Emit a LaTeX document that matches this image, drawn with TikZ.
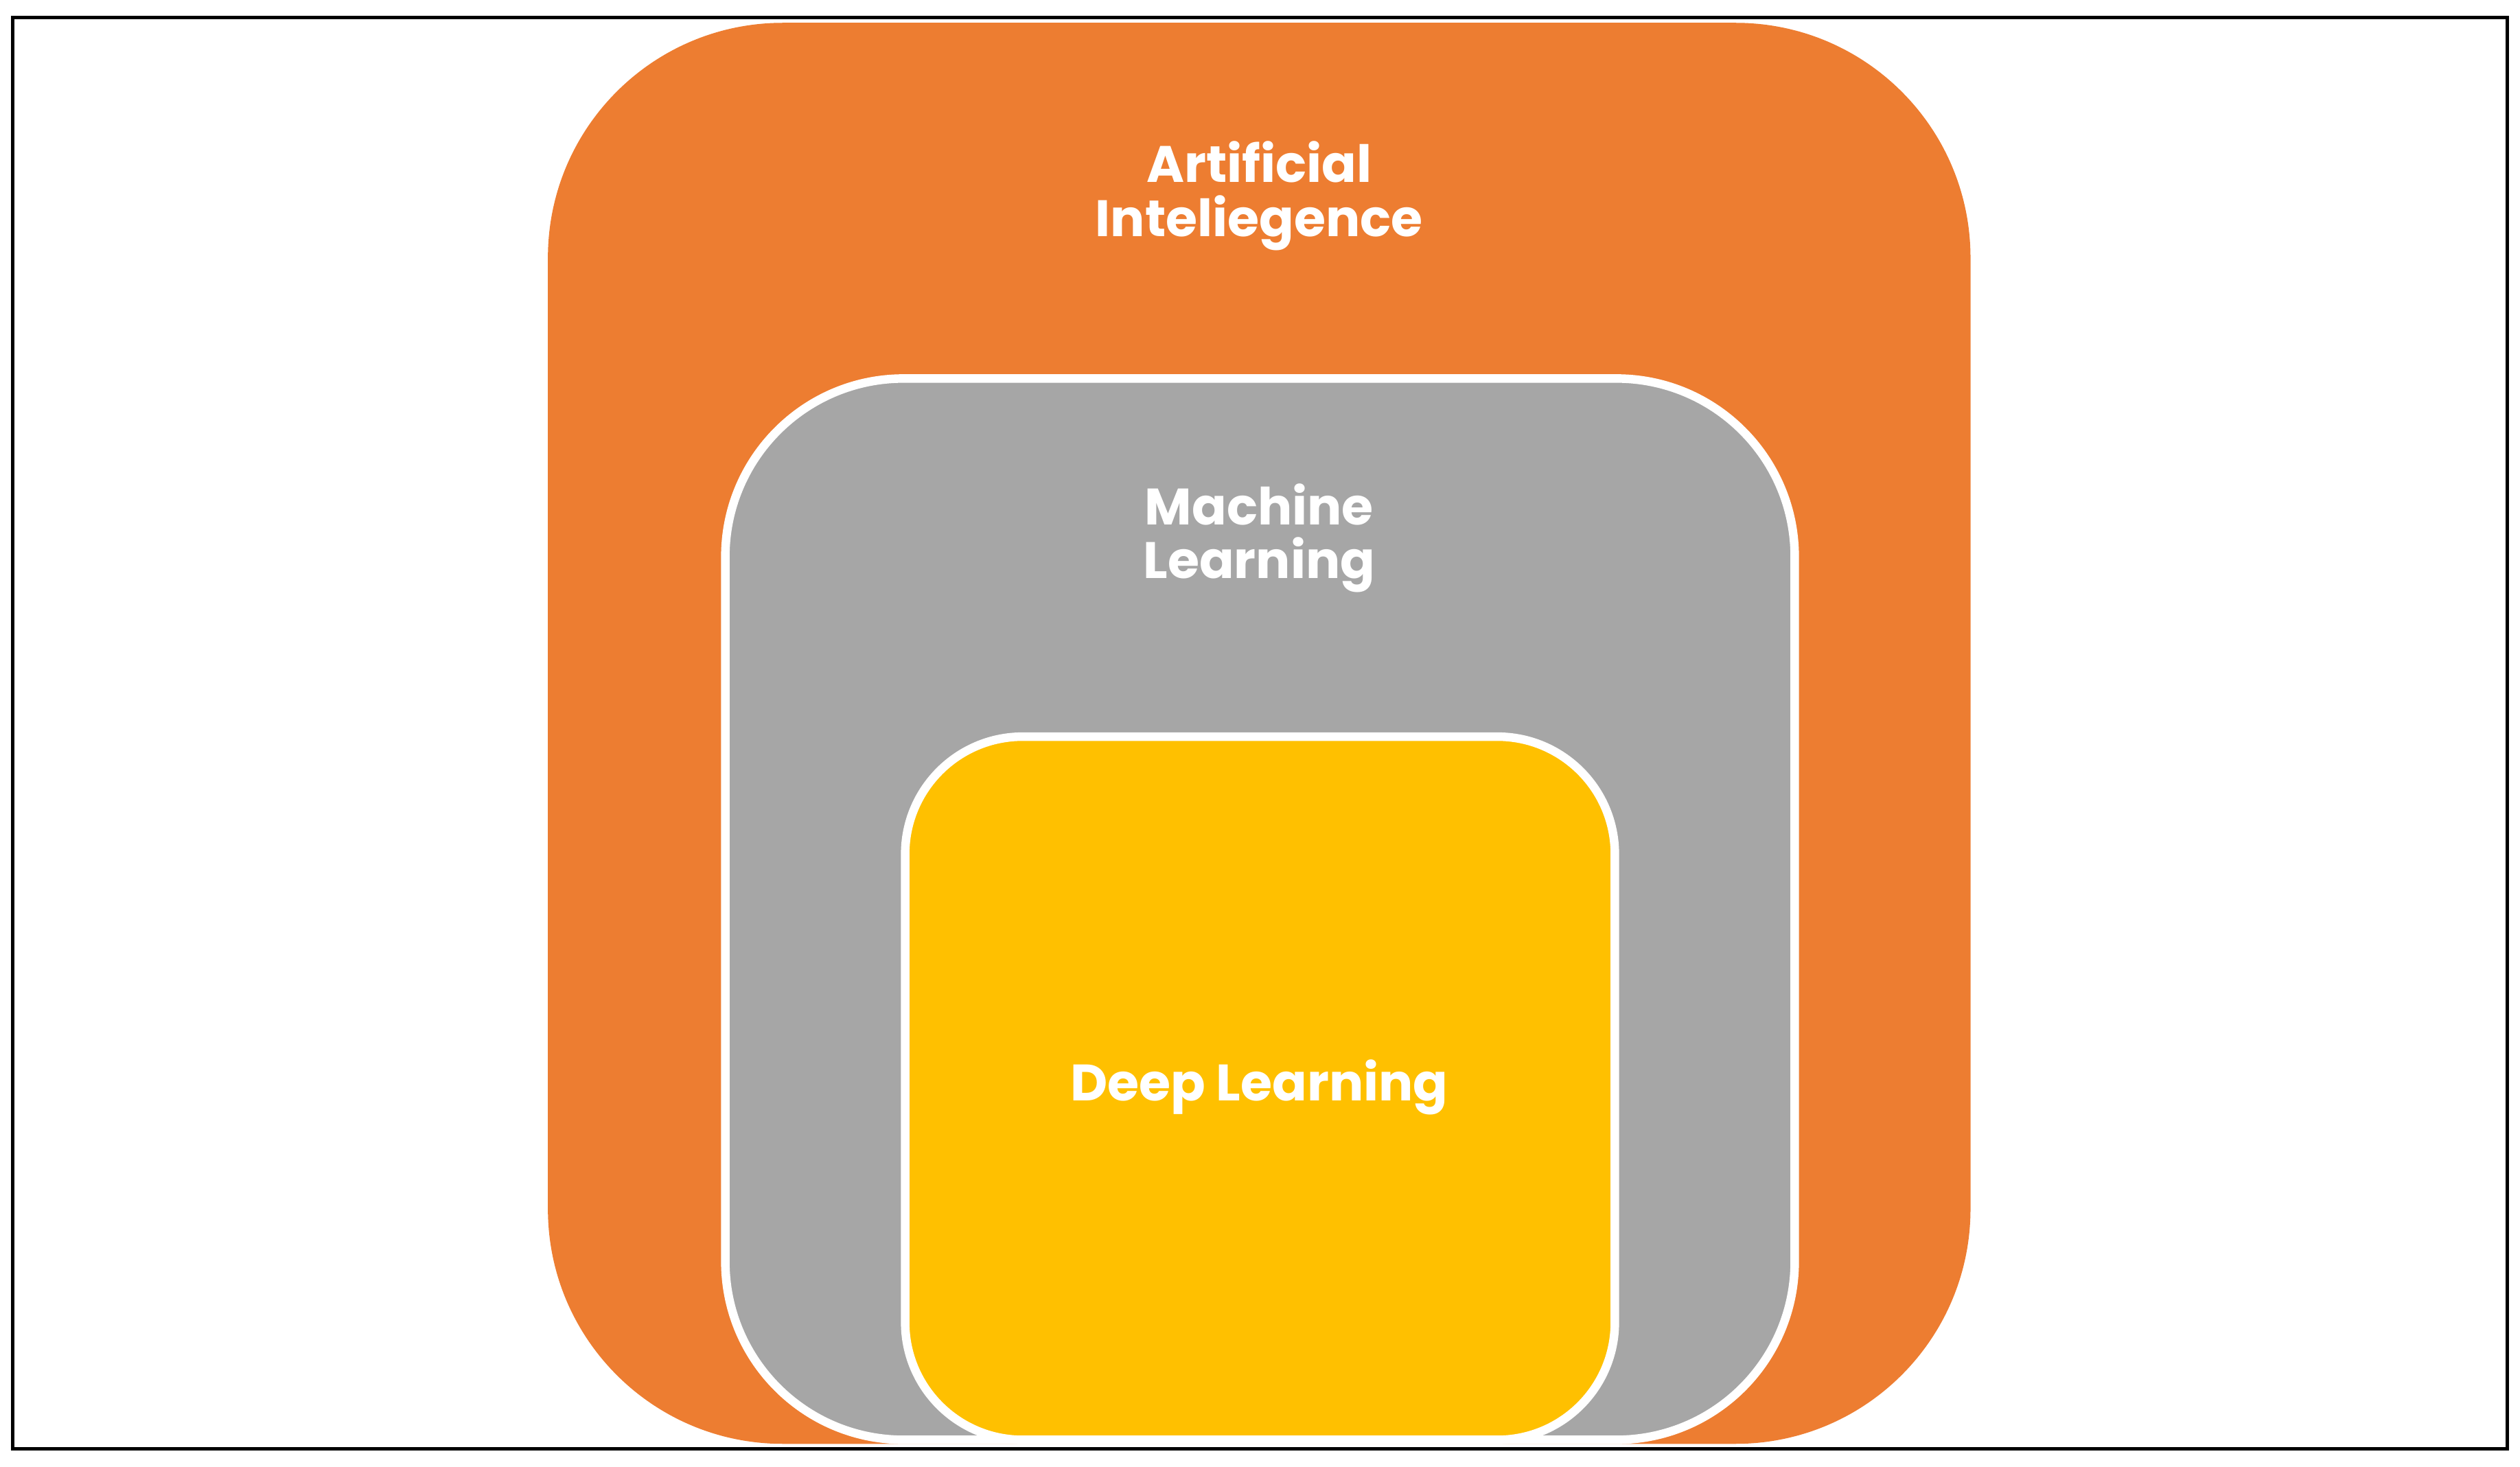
\documentclass[tikz,border=0pt]{standalone}
\usepackage{fontspec}
\setmainfont{Poppins}
\definecolor{aiorange}{RGB}{237,125,49}
\definecolor{mlgray}{RGB}{166,166,166}
\definecolor{dlyellow}{RGB}{255,192,0}
\tikzset{
  field/.style = {draw=white, line width = 3pt, inner sep = 0},
  caption/.style = {text = white, font = \bfseries\fontsize{18}{19}\selectfont, align = center}
}
\begin{document}
\begin{tikzpicture}[x=0.02cm, y=-0.02cm]
			\useasboundingbox (0,0) rectangle (1555,905);
			\draw[line width = 1.2pt] (8,11) rectangle (1547,894);
			\node[field, draw = none, fill = aiorange, rounded corners = 2.9cm, minimum width = 17.56cm, minimum height = 17.54cm] (ai) at (777,452.5) {};
			\node[field, fill = mlgray, rounded corners = 2.2cm, minimum width = 13.2cm, minimum height = 13.1cm] (ml) at (777.5,561) {};
			\node[field, fill = dlyellow, rounded corners = 1.45cm, minimum width = 8.76cm, minimum height = 8.68cm] (dl) at (777.5,671.5) {};
			\node[caption] (aitext) at (777,121) {Artificial\\Inteliegence};
			\node[caption] (mltext) at (777,332) {Machine\\Learning};
			\node[caption] (dltext) at (777,671) {Deep Learning};
		\end{tikzpicture}
\end{document}
